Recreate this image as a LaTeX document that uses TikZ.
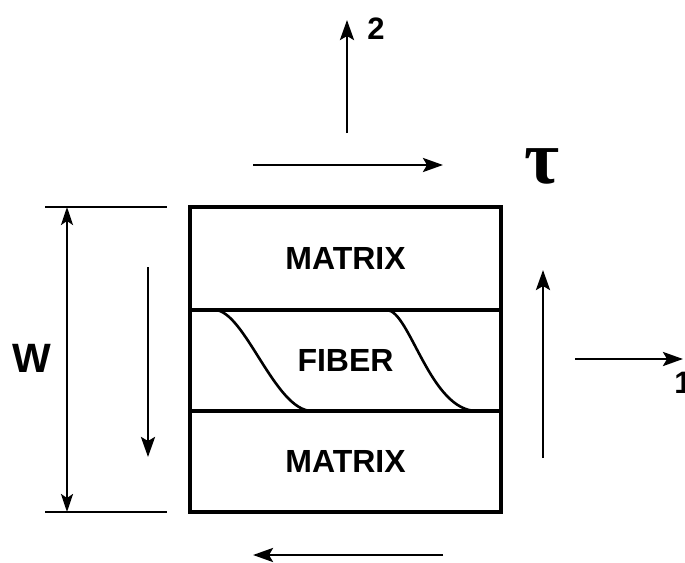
\documentclass[tikz,border=0pt]{standalone}
\usepackage{fontspec}
\setmainfont{Liberation Sans}
\newfontfamily\taufont{Liberation Serif}
\usetikzlibrary{arrows.meta,positioning}

\begin{document}
\begin{tikzpicture}[
  x=0.5pt, y=-0.5pt,
  layer/.style={draw, line width=1.7pt, outer sep=0pt, inner sep=0pt,
    minimum width=155.5pt, font=\fontsize{16}{16}\selectfont\bfseries},
  arr/.style={line width=1.4pt, -{Stealth[length=10pt,width=7pt,inset=2pt]}},
  dimline/.style={line width=1.2pt, {Stealth[length=9pt,width=6pt,inset=2pt]}-{Stealth[length=9pt,width=6pt,inset=2pt]}},
  ext/.style={line width=1.2pt},
  fibline/.style={line width=1.3pt},
  axlabel/.style={inner sep=0pt, font=\fontsize{15.5}{15.5}\selectfont\bfseries}
]
  \useasboundingbox (0,0) rectangle (685,562);

  % layered specimen
  \node[layer, minimum height=51.5pt] (mtop) at (345.5,258.5) {MATRIX};
  \node[layer, minimum height=50.5pt, below=0pt of mtop] (fib) {FIBER};
  \node[layer, minimum height=50.5pt, below=0pt of fib] (mbot) {MATRIX};

  % fiber waviness
  \draw[fibline] (215,310) .. controls (245,311) and (275,411) .. (312,411);
  \draw[fibline] (387,310) .. controls (410,311) and (430,411) .. (477,411);

  % width dimension
  \coordinate (extTa) at (45,207);
  \coordinate (extTb) at (167,207);
  \coordinate (extBa) at (45,512);
  \coordinate (extBb) at (167,512);
  \draw[ext] (extTa) -- (extTb);
  \draw[ext] (extBa) -- (extBb);
  \coordinate (dimT) at (67,207);
  \coordinate (dimB) at (67,512);
  \draw[dimline] (dimT) -- (dimB);
  \node[font=\fontsize{20.5}{20.5}\selectfont\bfseries] (wlabel) at (32,358) {W};

  % shear stresses
  \coordinate (topA) at (253,165);
  \coordinate (topB) at (443,165);
  \draw[arr] (topA) -- (topB);
  \coordinate (botA) at (443,555);
  \coordinate (botB) at (253,555);
  \draw[arr] (botA) -- (botB);
  \coordinate (leftA) at (148,267);
  \coordinate (leftB) at (148,457);
  \draw[arr] (leftA) -- (leftB);
  \coordinate (rightA) at (543,458);
  \coordinate (rightB) at (543,270);
  \draw[arr] (rightA) -- (rightB);
  \node[font=\taufont\fontsize{38}{38}\selectfont\bfseries] (tau) at (542,166) {τ};

  % axes
  \coordinate (ax2a) at (347,133);
  \coordinate (ax2b) at (347,20);
  \draw[arr] (ax2a) -- (ax2b);
  \node[axlabel] (lab2) at (376,29) {2};
  \coordinate (ax1a) at (575,359);
  \coordinate (ax1b) at (683,359);
  \draw[arr] (ax1a) -- (ax1b);
  \node[axlabel, anchor=north west] (lab1) at (674,372) {1};
\end{tikzpicture}
\end{document}
